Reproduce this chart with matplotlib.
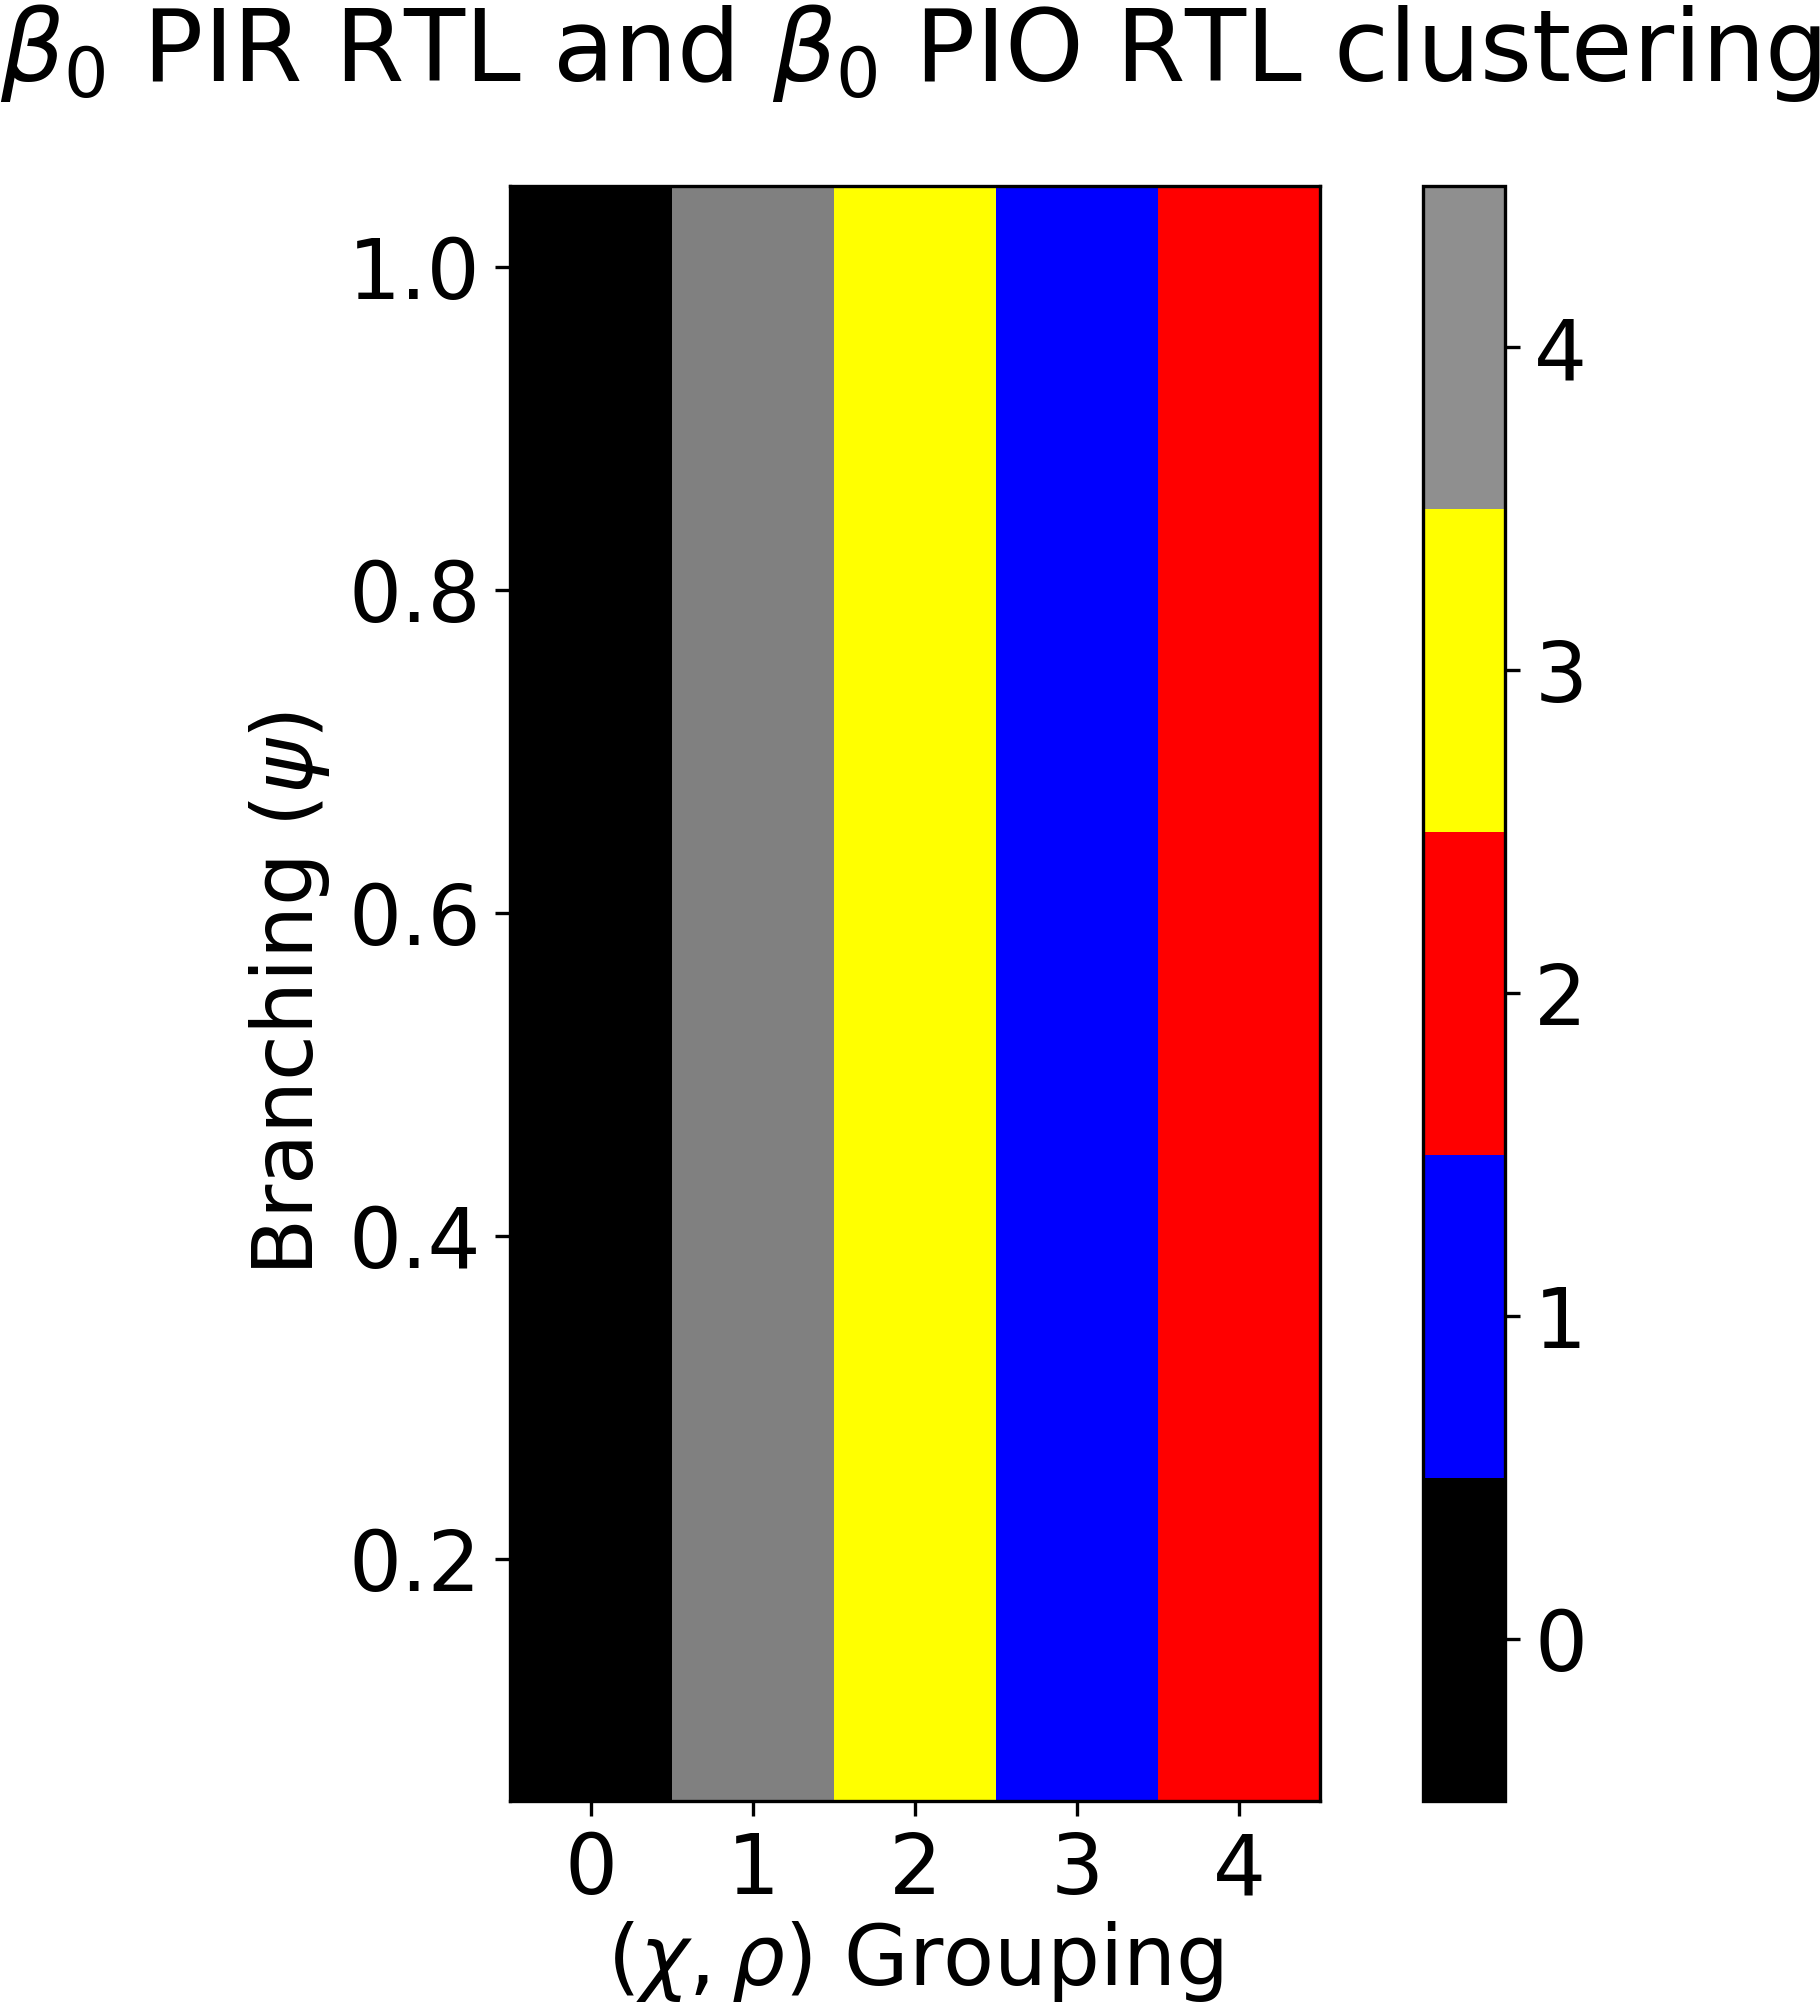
import numpy as np
import matplotlib
matplotlib.use("Agg")
import matplotlib.pyplot as plt
from matplotlib.colors import ListedColormap, BoundaryNorm
import matplotlib.cm as cm

groupings = [0, 1, 2, 3, 4]
cluster_labels = [0, 4, 3, 1, 2]
branching = [0.1, 0.2, 0.3, 0.4, 0.5, 0.6, 0.7, 0.8, 0.9, 1.0]
cluster_colors = ['black', 'blue', 'red', 'yellow', 'grey']
cbar_colors = ['black', 'blue', 'red', 'yellow', '#8f8f8f']
cbar_ticks = [0, 1, 2, 3, 4]

plt.rcParams['font.size'] = 20
fig = plt.figure(figsize=(1820/300, 2010/300), dpi=300)
ax = fig.add_axes([0.2802, 0.104, 0.4451, 0.8035])
cax = fig.add_axes([0.782, 0.104, 0.045, 0.8035])

data = np.tile(np.array(cluster_labels), (len(branching), 1))
cmap = ListedColormap(cluster_colors)
bounds = np.arange(-0.5, 5, 1)
norm = BoundaryNorm(bounds, cmap.N)
ax.imshow(data, cmap=cmap, norm=norm, aspect='auto', origin='lower',
          extent=[groupings[0]-0.5, groupings[-1]+0.5, 0.05, 1.05],
          interpolation='nearest')
ax.set_xticks(groupings)
ax.set_yticks([0.2, 0.4, 0.6, 0.8, 1.0])
ax.set_xlabel(r'$(\chi,\rho)$ Grouping', labelpad=2)
ax.set_ylabel(r'Branching $(\psi)$')
fig.suptitle(r'$\beta_0$ PIR RTL and $\beta_0$ PIO RTL clustering', x=0.5, y=0.999, fontsize=24)

sm = cm.ScalarMappable(norm=BoundaryNorm(bounds, 5), cmap=ListedColormap(cbar_colors))
cb = fig.colorbar(sm, cax=cax, ticks=cbar_ticks)
cb.minorticks_off()

fig.savefig('out.png', dpi=300)
